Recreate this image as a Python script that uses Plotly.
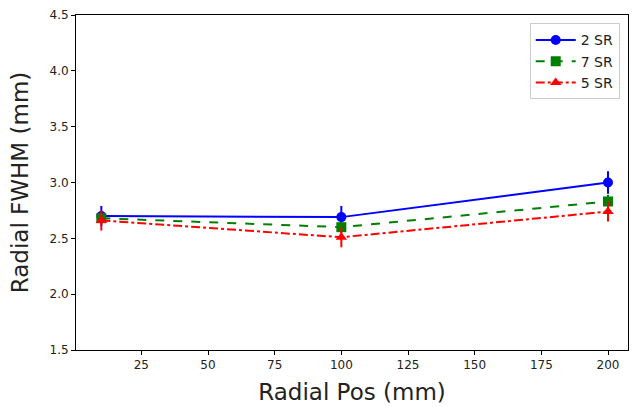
import plotly.graph_objects as go

radial_pos = [10, 100, 200]
sr2 = [2.70, 2.69, 3.00]
sr2_err = [0.09, 0.10, 0.10]
sr7 = [2.68, 2.60, 2.83]
sr7_err = [0.05, 0.05, 0.06]
sr5 = [2.66, 2.51, 2.74]
sr5_err = [0.09, 0.09, 0.09]

series = [
    ("2 SR", sr2, sr2_err, "blue", "solid", "circle"),
    ("7 SR", sr7, sr7_err, "green", "dash", "square"),
    ("5 SR", sr5, sr5_err, "red", "dashdot", "triangle-up"),
]

fig = go.Figure()
for name, y, err, color, dash, sym in series:
    fig.add_trace(go.Scatter(
        x=radial_pos, y=y, name=name, mode="lines+markers",
        line=dict(color=color, width=2, dash=dash),
        marker=dict(color=color, size=10, symbol=sym),
        error_y=dict(type="data", array=err, visible=True, color=color,
                     thickness=2, width=0),
    ))

axis_common = dict(
    showgrid=False, zeroline=False, showline=True, linecolor="black",
    linewidth=1, mirror=True, ticks="outside", ticklen=4, tickcolor="black",
    tickfont=dict(family="DejaVu Sans", size=12, color="#222"),
)

fig.update_layout(
    width=632, height=407,
    margin=dict(l=76, r=4, t=15, b=57),
    paper_bgcolor="white", plot_bgcolor="white",
    font=dict(family="DejaVu Sans"),
    xaxis=dict(range=[0.5, 207.5], tickvals=[25, 50, 75, 100, 125, 150, 175, 200],
               title=dict(text="Radial Pos (mm)", font=dict(size=23, color="#222"), standoff=12),
               **axis_common),
    yaxis=dict(range=[1.5, 4.5], tickvals=[1.5, 2.0, 2.5, 3.0, 3.5, 4.0, 4.5],
               tickformat=".1f",
               title=dict(text="Radial FWHM (mm)", font=dict(size=23, color="#222"), standoff=14),
               **axis_common),
    legend=dict(x=0.985, y=0.975, xanchor="right", yanchor="top",
                bordercolor="#ccc", borderwidth=1, bgcolor="rgba(255,255,255,0.8)",
                font=dict(size=14, color="#222"), itemwidth=40, tracegroupgap=0),
    showlegend=True,
)

fig.write_html("out.html")
